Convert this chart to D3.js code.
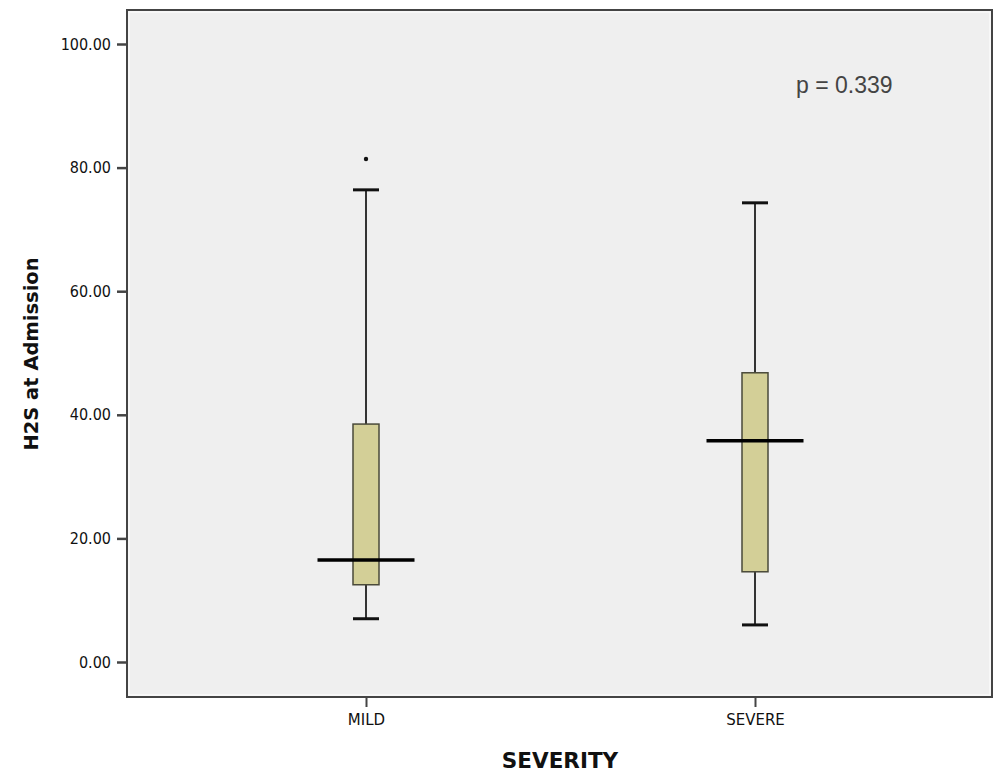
<!DOCTYPE html>
<html><head><meta charset="utf-8">
<script src="https://cdn.jsdelivr.net/npm/d3@7"></script>
<style>body{margin:0;background:#fff}svg{display:block}</style>
</head><body>
<svg id="c" width="993" height="773"></svg>
<script>
const categories = ["MILD", "SEVERE"];
const whiskerLow = [7.0, 6.0];
const q1 = [12.5, 14.6];
const median = [16.5, 35.8];
const q3 = [38.5, 46.8];
const whiskerHigh = [76.4, 74.3];
const outliers = [[81.4], []];
const yTicks = [0, 20, 40, 60, 80, 100];
const pText = "p = 0.339";

const svg = d3.select("#c");
const L = 127, T = 10, R = 992, B = 697;
const y = d3.scaleLinear().domain([0, 100]).range([662, 44]);
const x = d3.scalePoint().domain(categories).range([366, 755]);

svg.append("rect").attr("x", L).attr("y", T).attr("width", R - L).attr("height", B - T)
  .attr("fill", "#efefef").attr("stroke", "#444").attr("stroke-width", 2);
svg.append("rect").attr("x", L + 2).attr("y", T + 2).attr("width", R - L - 4).attr("height", B - T - 4)
  .attr("fill", "none").attr("stroke", "#fafafa").attr("stroke-width", 1.5);

// y axis
const ya = svg.append("g").attr("transform", `translate(${L},0)`)
  .call(d3.axisLeft(y).tickValues(yTicks).tickFormat(d3.format(".2f")).tickSize(10).tickPadding(6));
ya.select(".domain").remove();
ya.selectAll("line").attr("stroke", "#444").attr("stroke-width", 2.5);
ya.selectAll("text").attr("font-family", "DejaVu Sans Condensed, DejaVu Sans, sans-serif").attr("font-size", 16).attr("fill", "#111");

// x axis
const xa = svg.append("g").attr("transform", `translate(0,${B})`)
  .call(d3.axisBottom(x).tickSize(10).tickPadding(7));
xa.select(".domain").remove();
xa.selectAll("line").attr("stroke", "#444").attr("stroke-width", 2);
xa.selectAll("text").attr("font-family", "DejaVu Sans, sans-serif").attr("font-size", 15).attr("fill", "#111");

const bw = 26, mw = 97, cw = 26;
const g = svg.append("g");
categories.forEach((c, i) => {
  const cx = x(c);
  g.append("line").attr("x1", cx).attr("x2", cx).attr("y1", y(whiskerHigh[i])).attr("y2", y(q3[i]))
    .attr("stroke", "#333").attr("stroke-width", 2);
  g.append("line").attr("x1", cx).attr("x2", cx).attr("y1", y(q1[i])).attr("y2", y(whiskerLow[i]))
    .attr("stroke", "#333").attr("stroke-width", 2);
  [whiskerHigh[i], whiskerLow[i]].forEach(v => {
    g.append("line").attr("x1", cx - cw / 2).attr("x2", cx + cw / 2).attr("y1", y(v)).attr("y2", y(v))
      .attr("stroke", "#111").attr("stroke-width", 3);
  });
  g.append("rect").attr("x", cx - bw / 2).attr("y", y(q3[i])).attr("width", bw).attr("height", y(q1[i]) - y(q3[i]))
    .attr("fill", "#d3cf97").attr("stroke", "#4a4a3a").attr("stroke-width", 1.5);
  g.append("line").attr("x1", cx - mw / 2).attr("x2", cx + mw / 2).attr("y1", y(median[i])).attr("y2", y(median[i]))
    .attr("stroke", "#000").attr("stroke-width", 3.5);
  outliers[i].forEach(v => {
    g.append("circle").attr("cx", cx).attr("cy", y(v)).attr("r", 2.2).attr("fill", "#111");
  });
});

svg.append("text").attr("x", 796).attr("y", 93).text(pText)
  .attr("font-family", "Liberation Sans, Arial, sans-serif").attr("font-size", 23).attr("fill", "#444");

svg.append("text").attr("x", 560).attr("y", 768).attr("text-anchor", "middle").text("SEVERITY")
  .attr("font-family", "DejaVu Sans, Verdana, sans-serif").attr("font-weight", "bold").attr("font-size", 21.5).attr("fill", "#111");

svg.append("text").attr("transform", "translate(38,354) rotate(-90)").attr("text-anchor", "middle").text("H2S at Admission")
  .attr("font-family", "DejaVu Sans, Verdana, sans-serif").attr("font-weight", "bold").attr("font-size", 19.5).attr("fill", "#111");
</script>
</body></html>
